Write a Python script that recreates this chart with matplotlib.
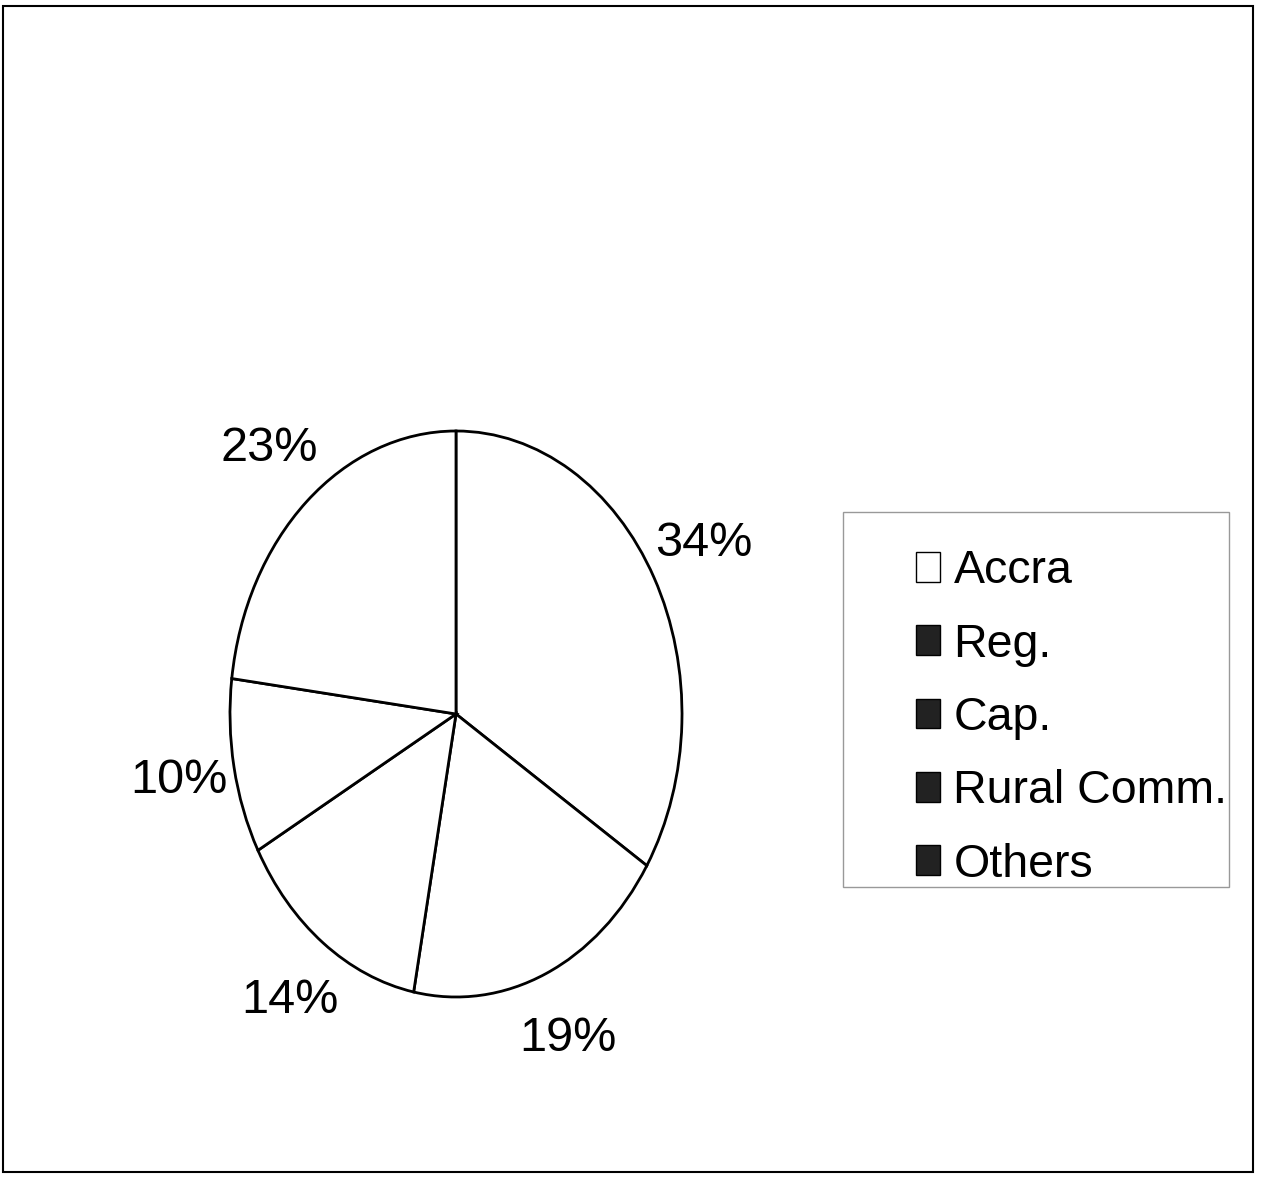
import matplotlib.pyplot as plt
from matplotlib.patches import Patch, Rectangle

plt.rcParams['font.family'] = ['Liberation Sans', 'DejaVu Sans']

# share of respondents by location (%), clockwise from 12 o'clock
shares = [34, 19, 14, 10, 23]

legend_labels = ['Accra', 'Reg.', 'Cap.', 'Rural Comm.', 'Others']
legend_colors = ['white', '#222222', '#222222', '#222222', '#222222']

W, H = 1263, 1179
fig = plt.figure(figsize=(W / 100, H / 100), dpi=100)

# pie drawn as a tall ellipse: stretch the axes instead of keeping equal aspect
ax = fig.add_axes([117 / W, 40.5 / H, 678 / W, 849 / H])
wedges, texts, autotexts = ax.pie(
    shares, startangle=90, counterclock=False,
    colors=['white'] * len(shares),
    wedgeprops=dict(edgecolor='black', linewidth=2),
    autopct='%1.0f%%', pctdistance=1.25,
    textprops=dict(fontsize=35, color='black'))
ax.set_aspect('auto')
ax.set_xlim(-1.5, 1.5)
ax.set_ylim(-1.5, 1.5)
ax.axis('off')

# legend with its own box
handles = [Patch(facecolor=c, edgecolor='black', linewidth=1) for c in legend_colors]
fig.legend(handles, legend_labels, loc='upper left',
           bbox_to_anchor=(893 / W, 1 - 526 / H), frameon=False,
           fontsize=33.5, handlelength=0.5, handleheight=0.6,
           handletextpad=0.3, labelspacing=0.63, borderpad=0)
fig.add_artist(Rectangle((843 / W, 292 / H), 386 / W, 375 / H,
                         transform=fig.transFigure, fill=False,
                         edgecolor='#999999', linewidth=1))

# outer border
fig.add_artist(Rectangle((3 / W, 7 / H), 1250 / W, 1166 / H,
                         transform=fig.transFigure, fill=False,
                         edgecolor='black', linewidth=1.5))

fig.savefig('out.png', dpi=100, facecolor='white')
